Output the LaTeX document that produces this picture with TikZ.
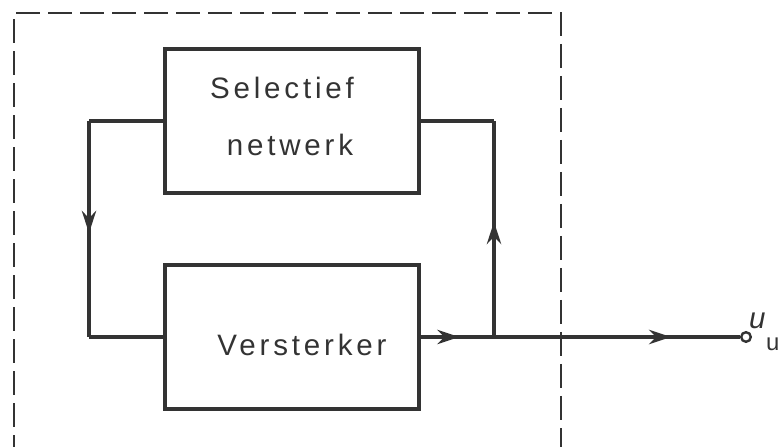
\documentclass[tikz,border=0pt]{standalone}
\usepackage{fontspec}
\setmainfont{Liberation Sans}
\usetikzlibrary{arrows.meta, decorations.markings}
\definecolor{ink}{gray}{0.2}
\tikzset{
  blok/.style={draw=ink, line width=2.2pt, minimum width=6.35cm, minimum height=3.6cm},
  lijn/.style={draw=ink, line width=2.2pt},
  pijl/.style={postaction={decorate, decoration={markings, mark=at position #1 with {\arrow{Stealth[length=0.55cm, width=0.36cm, inset=0.18cm]}}}}},
  tekst/.style={text=ink, font=\fontsize{21}{24}\selectfont\addfontfeature{LetterSpace=13}}
}

\begin{document}
\begin{tikzpicture}
  \useasboundingbox (0, 0) rectangle (19.475, 11.175);
  \draw [ink, line width=1.7pt, dash pattern=on 0.6cm off 0.2cm] (0.35, -0.3) to (0.35, 10.85) to (14.025, 10.85) to (14.025, -0.3);

  \node [blok] (sel) at (7.3, 8.15) {};
  \node [blok] (vst) at (7.3, 2.75) {};
  \node [tekst] (sel-a) at (7.05, 8.975) {Selectief};
  \node [tekst] (sel-b) at (7.25, 7.55) {netwerk};
  \node [tekst] (vst-a) at (7.55, 2.55) {Versterker};

  \coordinate (lt) at (2.225, 8.15);
  \coordinate (lb) at (2.225, 2.75);
  \coordinate (rt) at (12.35, 8.15);
  \coordinate (rb) at (12.35, 2.75);
  \node [circle, draw=ink, line width=1.7pt, inner sep=0pt, minimum size=0.24cm] (uit) at (18.65, 2.75) {};
  \node [tekst, anchor=base west, inner sep=0pt] (uu) at (18.72, 2.95) {\itshape u\kern0.5pt\raisebox{-0.55cm}{\fontsize{17}{20}\selectfont\upshape u}};

  \draw [lijn] (sel.west) to (lt);
  \draw [lijn, pijl=0.518] (lt) to (lb);
  \draw [lijn] (lb) to (vst.west);
  \draw [lijn] (sel.east) to (rt);
  \draw [lijn, pijl=0.532] (rb) to (rt);
  \draw [lijn, pijl=0.121, pijl=0.784] (vst.east) to (uit.west);

\end{tikzpicture}
\end{document}
